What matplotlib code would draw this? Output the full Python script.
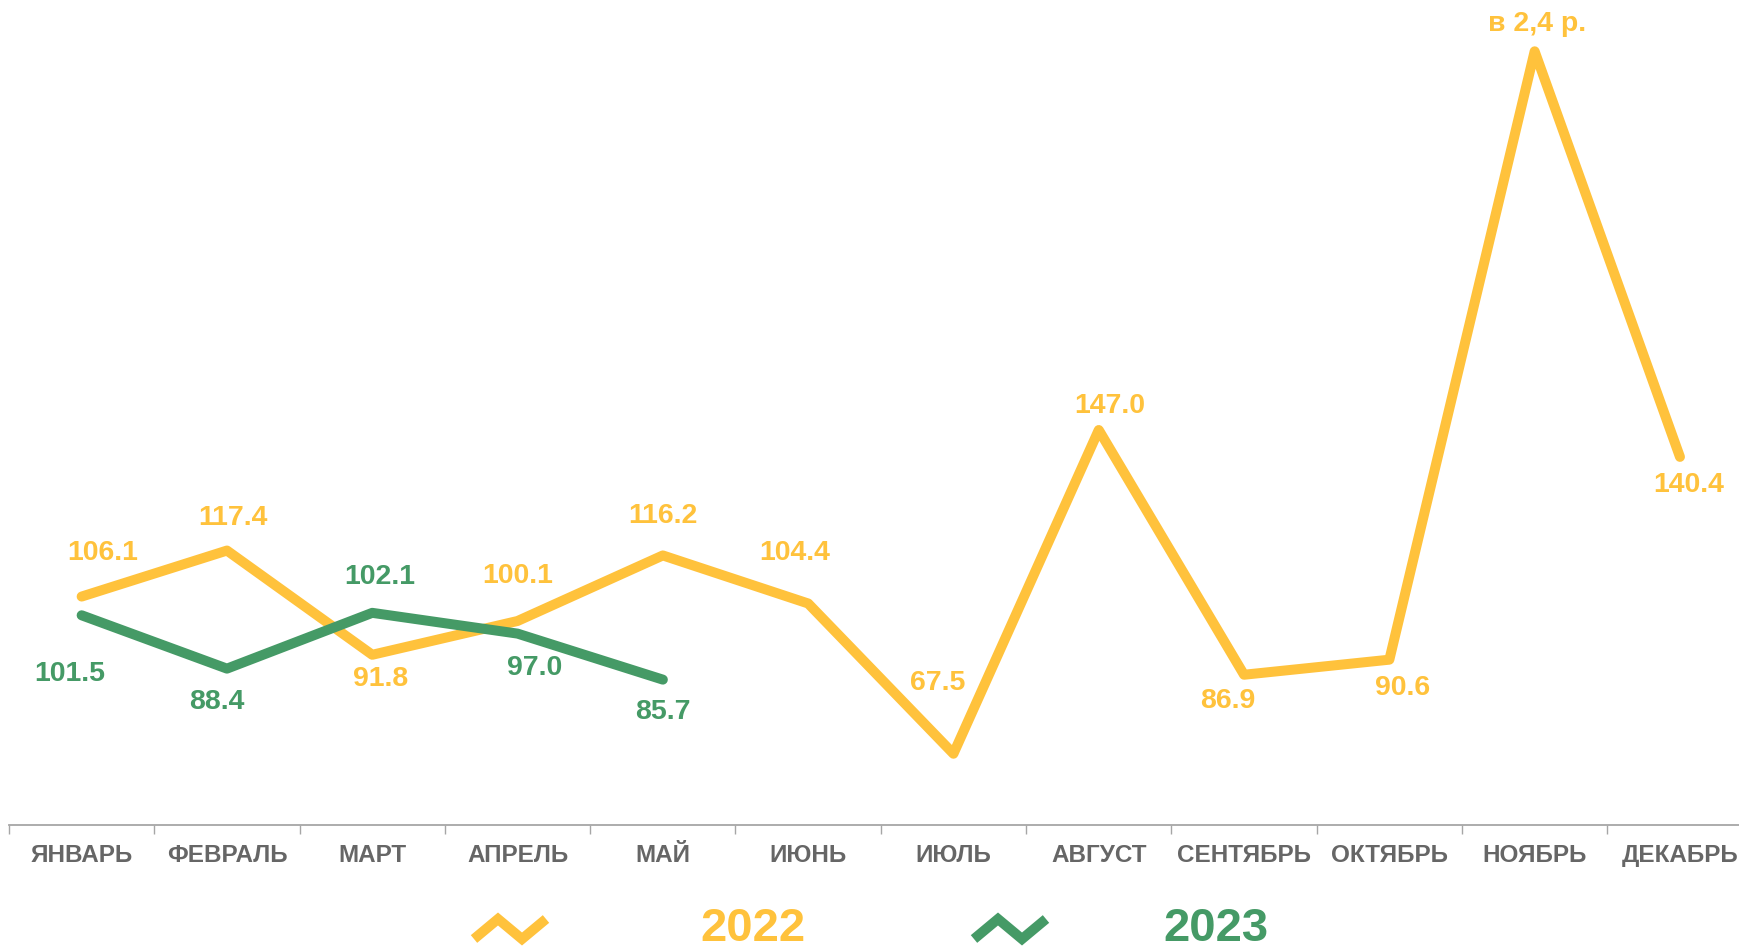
import numpy as np
import matplotlib as mpl
mpl.use('Agg')
from matplotlib import pyplot as plt
from matplotlib.lines import Line2D

#------------------ data ----------------------
months = ['ЯНВАРЬ', 'ФЕВРАЛЬ', 'МАРТ', 'АПРЕЛЬ', 'МАЙ', 'ИЮНЬ', 'ИЮЛЬ',
          'АВГУСТ', 'СЕНТЯБРЬ', 'ОКТЯБРЬ', 'НОЯБРЬ', 'ДЕКАБРЬ']
vals_2022 = [106.1, 117.4, 91.8, 100.1, 116.2, 104.4, 67.5, 147.0, 86.9, 90.6, 240.0, 140.4]
labels_2022 = ['106.1', '117.4', '91.8', '100.1', '116.2', '104.4', '67.5', '147.0',
               '86.9', '90.6', 'в 2,4 р.', '140.4']
vals_2023 = [101.5, 88.4, 102.1, 97.0, 85.7]
labels_2023 = ['101.5', '88.4', '102.1', '97.0', '85.7']

# label offsets in pixels (dx, dy), dy positive = up
offs_2022 = [(21, 44), (6, 33), (8, -24), (0, 45), (0, 39), (-13, 50), (-16, 71),
             (11, 24), (-16, -26), (13, -28), (2, 27), (9, -28)]
offs_2023 = [(-12, -59), (-10, -33), (8, 36), (17, -34), (0, -32)]

#------------------ style ----------------------
YEL = '#FFC23C'
GRN = '#459A66'
GRAY_TXT = '#666666'
W, H = 1740, 949
plt.rcParams['font.family'] = ['Liberation Sans', 'DejaVu Sans']

fig = plt.figure(figsize=(W / 100, H / 100), dpi=100)
ax_bottom = 124 / H
ax = fig.add_axes([9 / W, ax_bottom, 12 * 145.3 / W, 1 - ax_bottom])

x = np.arange(len(months))
ax.plot(x, vals_2022, color=YEL, lw=7.2, solid_capstyle='round',
        solid_joinstyle='round', clip_on=False, zorder=2)
ax.plot(x[:len(vals_2023)], vals_2023, color=GRN, lw=7.2, solid_capstyle='round',
        solid_joinstyle='round', clip_on=False, zorder=3)

for xi, v, t, (dx, dy) in zip(x, vals_2022, labels_2022, offs_2022):
    ax.annotate(t, (xi, v), xytext=(dx, dy), textcoords='offset pixels',
                ha='center', va='center', fontsize=20.5, fontweight='bold',
                color=YEL, annotation_clip=False)
for xi, v, t, (dx, dy) in zip(x, vals_2023, labels_2023, offs_2023):
    ax.annotate(t, (xi, v), xytext=(dx, dy), textcoords='offset pixels',
                ha='center', va='center', fontsize=20.5, fontweight='bold',
                color=GRN, annotation_clip=False)

ax.set_xlim(-0.5, len(months) - 0.5)
ax.set_ylim(50, 252.6)
ax.set_yticks([])
for s in ['top', 'right', 'left']:
    ax.spines[s].set_visible(False)
ax.spines['bottom'].set_color('#A6A6A6')
ax.spines['bottom'].set_linewidth(1.3)

# boundary ticks (major) + month labels (minor)
ax.set_xticks(np.arange(len(months) + 1) - 0.5)
ax.set_xticklabels([])
ax.tick_params(axis='x', which='major', length=6.5, width=1, color='#A6A6A6')
ax.set_xticks(x, minor=True)
ax.set_xticklabels(months, minor=True, fontsize=17.5, fontweight='bold', color=GRAY_TXT)
ax.tick_params(axis='x', which='minor', length=0, pad=14)

#------------------ legend ----------------------
def zigzag(cx, cy, color):
    xs = np.array([-1.5, -0.5, 0.5, 1.5]) * 24 + cx
    ys = np.array([0.5, -0.5, 0.5, -0.5]) * 20 + cy
    fig.add_artist(Line2D(xs / W, 1 - ys / H, transform=fig.transFigure,
                          color=color, lw=7.2, solid_capstyle='butt',
                          solid_joinstyle='miter'))

zigzag(510, 929, YEL)
fig.text(753 / W, 1 - 929 / H, '2022', color=YEL, fontsize=34, fontweight='bold',
         ha='center', va='center')
zigzag(1010, 929, GRN)
fig.text(1216 / W, 1 - 929 / H, '2023', color=GRN, fontsize=34, fontweight='bold',
         ha='center', va='center')

fig.savefig('out.png', dpi=100)
